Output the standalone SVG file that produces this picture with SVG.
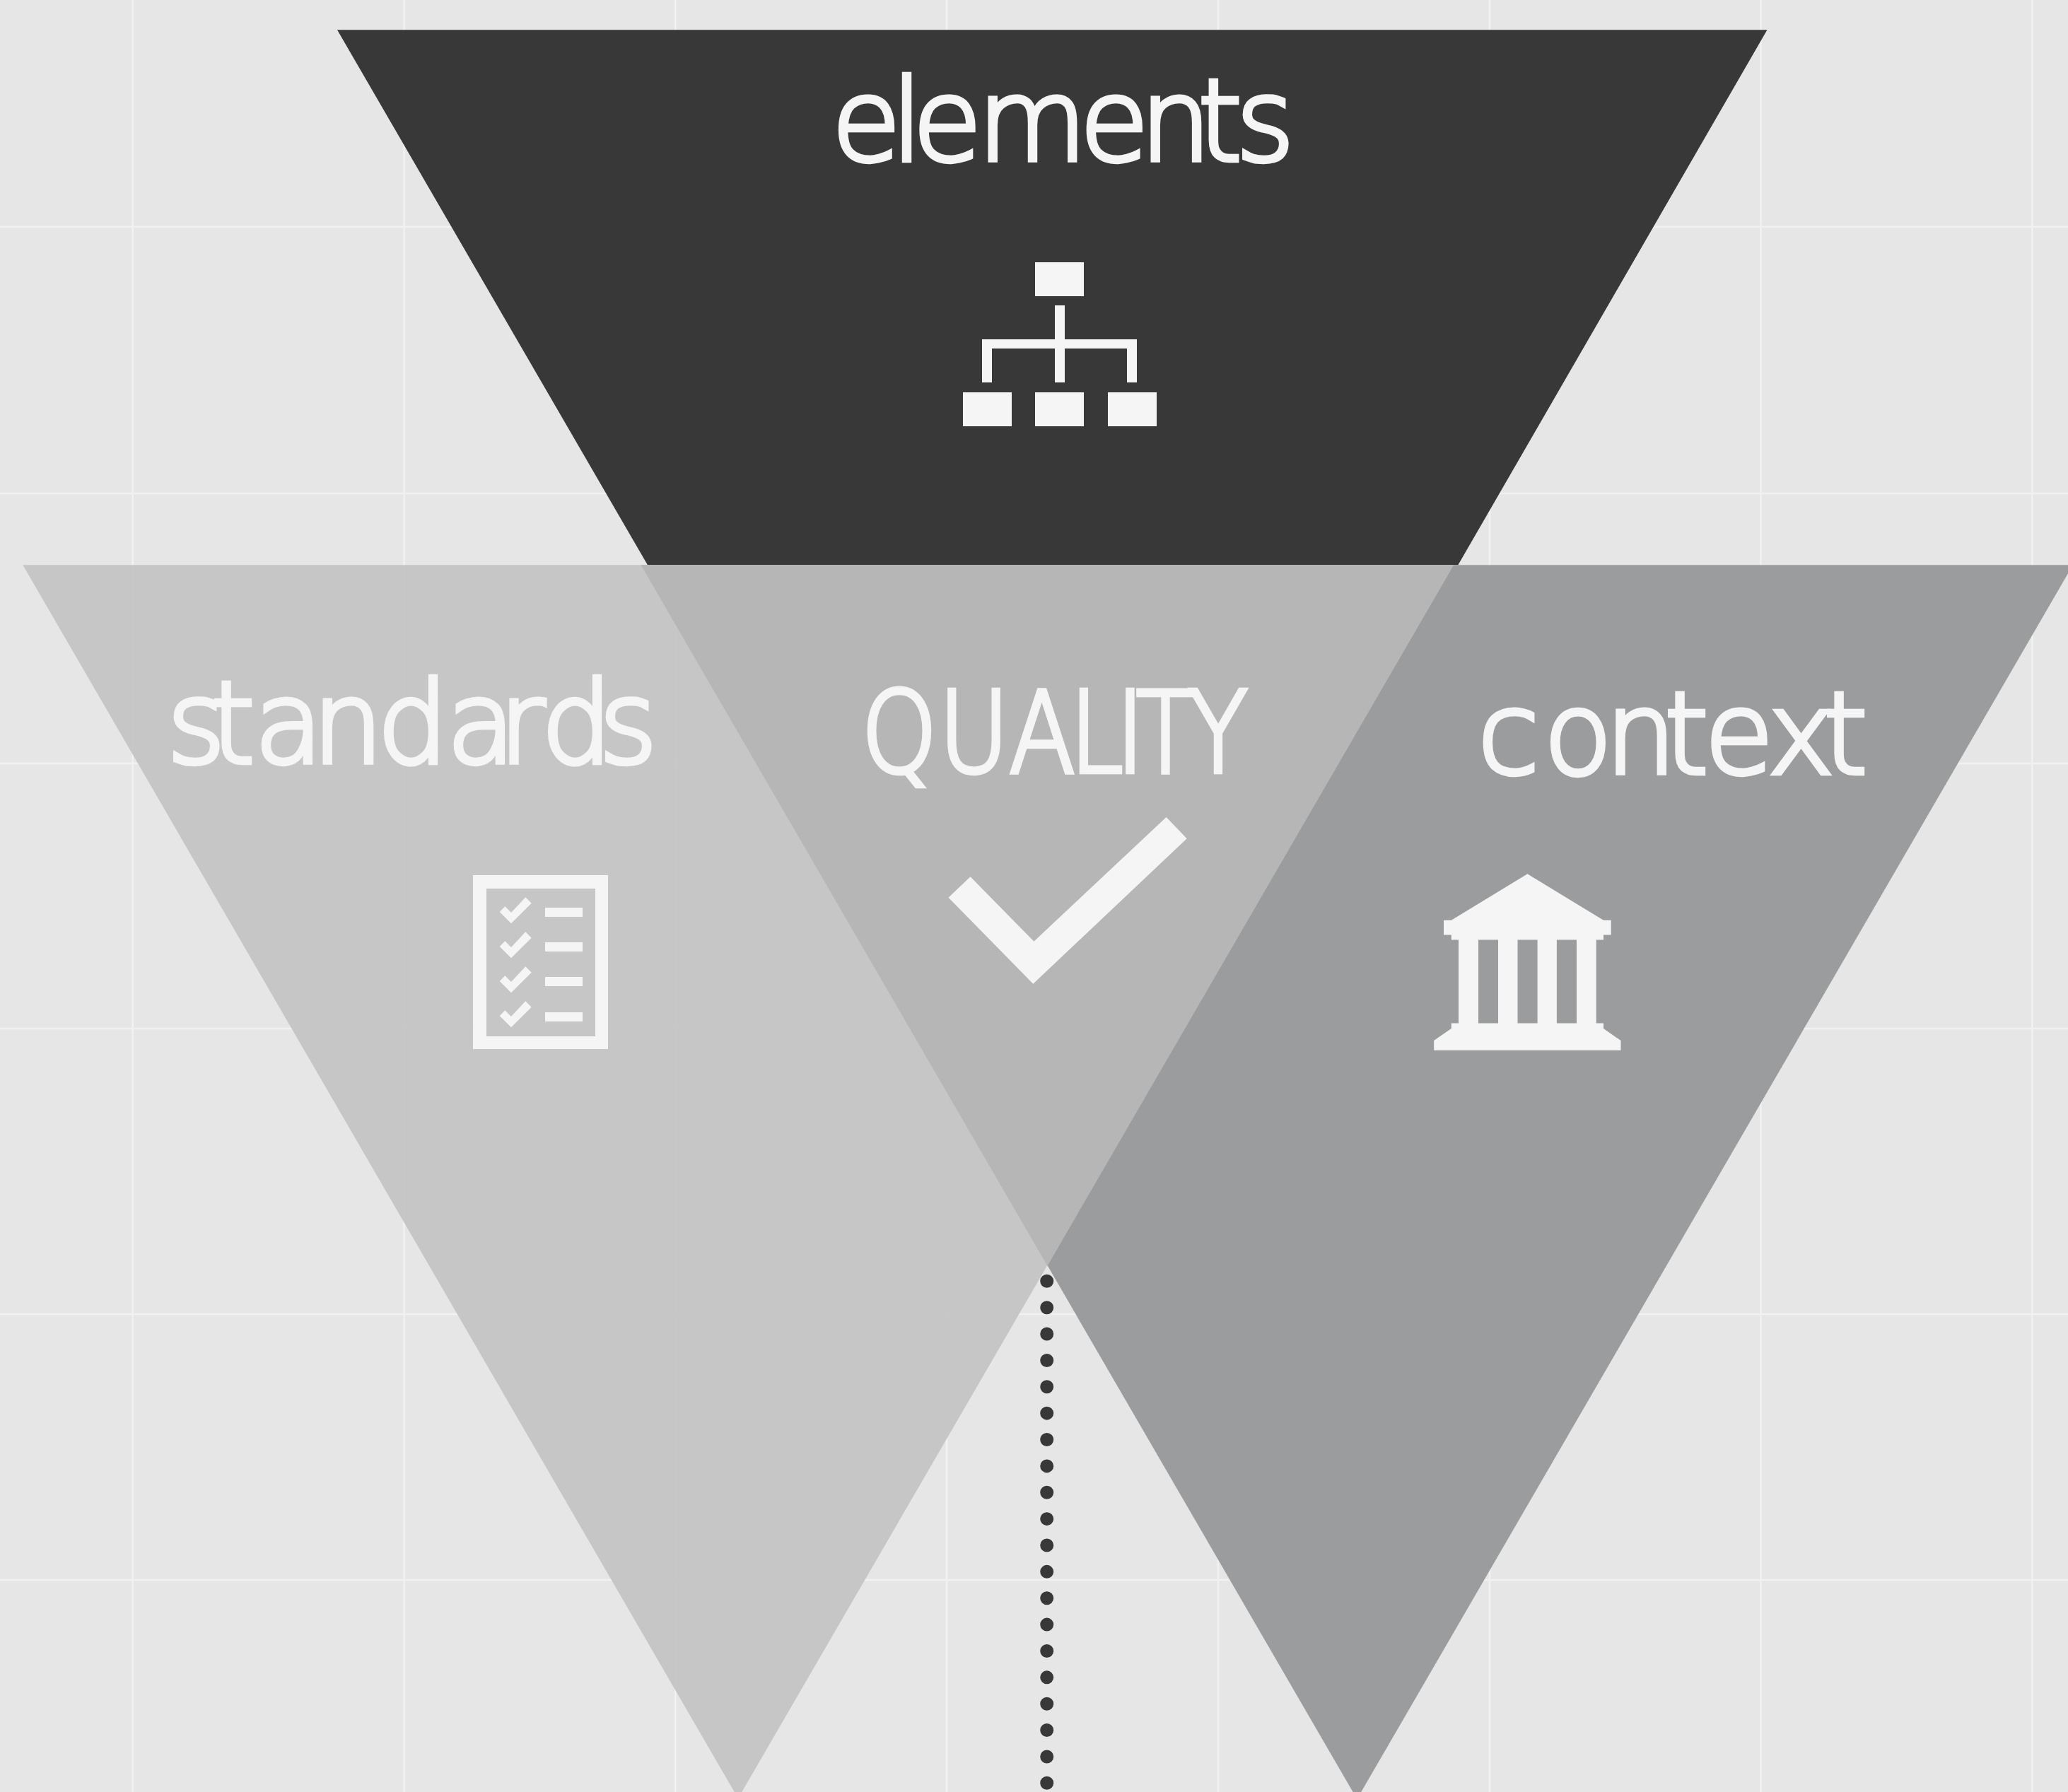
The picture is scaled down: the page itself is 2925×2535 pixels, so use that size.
<svg xmlns="http://www.w3.org/2000/svg" width="2925" height="2535" viewBox="0 0 2925 2535">
<style>
.grid line{stroke:#f1f1f1;stroke-width:2.6}
.ink{fill:#f5f5f5}
.label{fill:#f5f5f5;stroke:#f5f5f5;stroke-width:6.5;font-family:"DejaVu Sans","Liberation Sans",sans-serif;font-weight:200;font-size:165px}
</style>
<rect width="2925" height="2535" fill="#e6e6e6"/>
<g class="grid">
<line x1="187.7" y1="0" x2="187.7" y2="2535"/><line x1="571.5" y1="0" x2="571.5" y2="2535"/><line x1="955.3" y1="0" x2="955.3" y2="2535"/><line x1="1339" y1="0" x2="1339" y2="2535"/><line x1="1722.9" y1="0" x2="1722.9" y2="2535"/><line x1="2107" y1="0" x2="2107" y2="2535"/><line x1="2490.5" y1="0" x2="2490.5" y2="2535"/><line x1="2874.3" y1="0" x2="2874.3" y2="2535"/>
<line x1="0" y1="321" x2="2925" y2="321"/><line x1="0" y1="698" x2="2925" y2="698"/><line x1="0" y1="1080" x2="2925" y2="1080"/><line x1="0" y1="1455" x2="2925" y2="1455"/><line x1="0" y1="1859" x2="2925" y2="1859"/><line x1="0" y1="2235" x2="2925" y2="2235"/>
</g>
<g id="elements">
<polygon points="477,42.3 2499.5,42.3 2062.3,799.3 916,799.3" fill="#383838"/>
<text class="label" transform="scale(.96 .97)" x="1225.6 1313.5 1344.8 1440.3 1591 1680 1765 1821" y="234">elements</text>
<g class="ink">
<rect x="1464" y="371" width="69" height="48"/>
<rect x="1362" y="555" width="69" height="48"/><rect x="1464" y="555" width="69" height="48"/><rect x="1567" y="555" width="69" height="48"/>
<path d="M1492 432H1506V480H1608V541H1594V493H1506V541H1492V493H1403V541H1389V480H1492Z"/>
</g>
</g>
<g id="context">
<polygon points="906.7,799.3 2932,799.3 1919.4,2545" fill="#9b9c9d"/>
</g>
<g id="standards">
<polygon points="32.3,799.3 2056,799.3 1044,2544" fill="#c0c0c0" fill-opacity=".85"/>
</g>
<g id="quality">
<polygon points="906.7,799.3 2056,799.3 1481.5,1790.7" fill="#b6b6b6"/>
<text class="label" style="font-size:158px" transform="scale(.86 1)" x="1417 1544 1659.8 1759.4 1835.5 1868.6 1955.2" y="1092.5">QUALITY</text>
<polygon class="ink" points="1341.5,1269.7 1372.5,1240.3 1462.4,1331.7 1649.6,1156 1678.7,1186.3 1461.3,1391.7"/>
</g>
<g id="standards-content">
<text class="label" transform="scale(.96 .97)" x="246 310.8 374.8 460.1 555.7 658.2 735 797.5 882.6" y="1111.9">standards</text>
<path class="ink" fill-rule="evenodd" d="M669 1238H860V1484H669ZM688 1257V1466H842V1257Z"/>
<g class="ink">
<rect x="771" y="1284" width="53" height="13"/><rect x="771" y="1333" width="53" height="13"/><rect x="771" y="1382" width="53" height="13"/><rect x="771" y="1432" width="53" height="13"/>
<polygon id="tick" points="706.7,1290 714.3,1282.3 723,1291 743.3,1269.3 751.7,1277.7 723,1306.3"/>
<use href="#tick" y="49"/><use href="#tick" y="98"/><use href="#tick" y="147"/>
</g>
</g>
<g id="context-content">
<text class="label" transform="scale(.96 .97)" x="2177 2274.5 2365.2 2452.4 2511.5 2604.6 2686.8" y="1127.8">context</text>
<path class="ink" fill-rule="evenodd" d="M2160.4 1236.3L2268 1301.8H2278.7V1322.5H2268V1329.6H2257.7V1447.6H2268V1455L2292.5 1472V1485.7H2028.2V1472L2052.8 1455V1447.6H2063V1329.6H2052.8V1322.5H2042V1301.8H2052.8ZM2091 1329.6V1447.6H2119V1329.6ZM2146.5 1329.6V1447.6H2174.6V1329.6ZM2201.9 1329.6V1447.6H2230V1329.6Z"/>
</g>
<g id="connectors">
<line x1="1480.7" y1="1812.3" x2="1480.7" y2="2535" stroke="#383838" stroke-width="19" stroke-linecap="round" stroke-dasharray="0 37.37"/>
</g>
</svg>
